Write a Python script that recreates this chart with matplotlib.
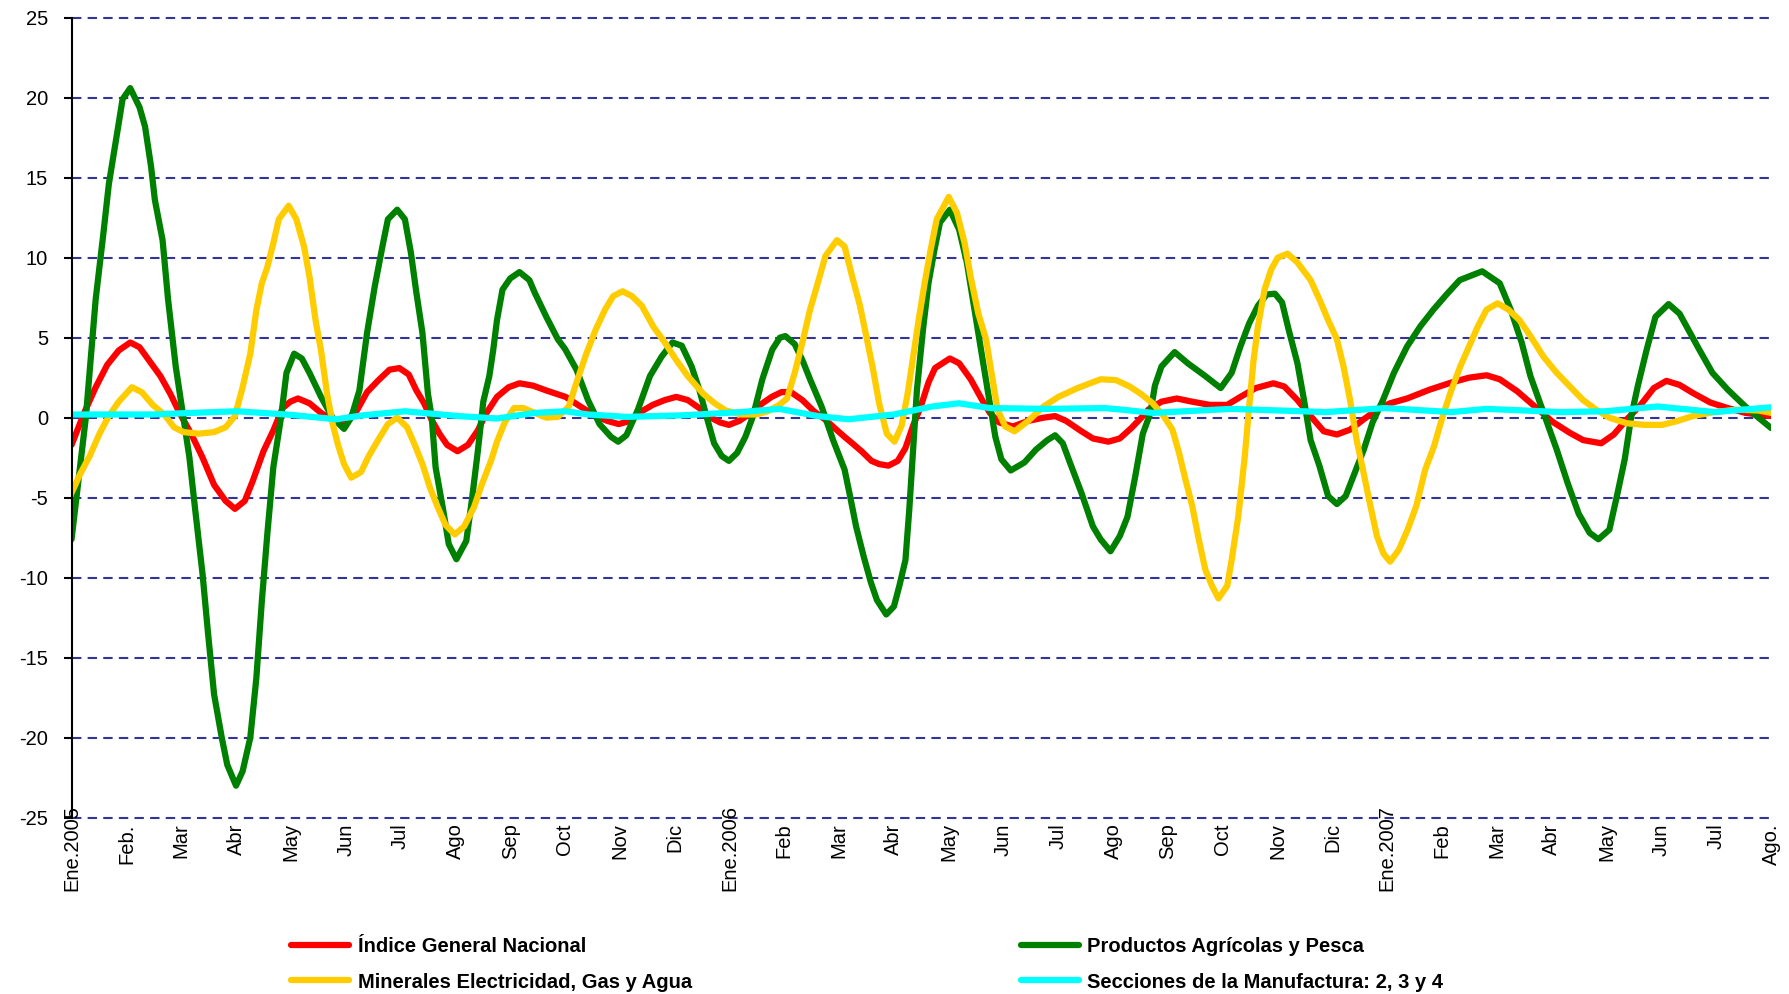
import matplotlib
matplotlib.use("Agg")
import matplotlib.pyplot as plt
import matplotlib.transforms as mtransforms

plt.rcParams['font.family'] = ['Liberation Sans', 'DejaVu Sans']
plt.rcParams['axes.unicode_minus'] = False

# meses desde Ene.2005 (0 = Ene.2005, 31 = Ago.2007)
etiquetas_mes = ["Ene.2005", "Feb.", "Mar", "Abr", "May", "Jun", "Jul", "Ago", "Sep", "Oct", "Nov", "Dic",
                 "Ene.2006", "Feb", "Mar", "Abr", "May", "Jun", "Jul", "Ago", "Sep", "Oct", "Nov", "Dic",
                 "Ene.2007", "Feb", "Mar", "Abr", "May", "Jun", "Jul", "Ago."]

# Indice General Nacional
indice_t = [0, 0.23, 0.44, 0.65, 0.86, 1.07, 1.24, 1.41, 1.62, 1.8, 1.97, 2.18, 2.39, 2.6, 2.81, 2.98,
            3.16, 3.3, 3.5, 3.68, 3.85, 3.99, 4.13, 4.34, 4.55, 4.76, 4.97, 5.18, 5.39, 5.6, 5.8, 5.98,
            6.15, 6.29, 6.43, 6.57, 6.71, 6.85, 7.04, 7.23, 7.41, 7.55, 7.76, 7.97, 8.17, 8.42, 8.66,
            9.01, 9.28, 9.56, 9.77, 9.98, 10.19, 10.4, 10.6, 10.82, 11.03, 11.24, 11.45, 11.66, 11.83,
            11.99, 12.18, 12.35, 12.56, 12.77, 12.95, 13.12, 13.33, 13.54, 13.74, 13.95, 14.1, 14.24,
            14.41, 14.59, 14.73, 14.9, 15.07, 15.21, 15.35, 15.49, 15.63, 15.75, 16.02, 16.19, 16.4,
            16.61, 16.75, 16.92, 17.17, 17.45, 17.73, 17.94, 18.14, 18.42, 18.63, 18.91, 19.12, 19.33,
            19.54, 19.64, 19.88, 20.16, 20.44, 20.76, 21.08, 21.32, 21.6, 21.92, 22.12, 22.36, 22.6,
            22.84, 23.08, 23.32, 23.57, 23.81, 24.05, 24.36, 24.77, 25.17, 25.49, 25.81, 26.05, 26.37,
            26.69, 27.01, 27.33, 27.57, 27.9, 28.13, 28.37, 28.62, 28.86, 29.09, 29.33, 29.57, 29.89,
            30.21, 30.53, 30.77, 31.0]
indice_v = [-1.7, 0.3, 1.9, 3.3, 4.2, 4.7, 4.4, 3.6, 2.6, 1.5, 0.3, -1.0, -2.5, -4.2, -5.2, -5.7,
            -5.2, -4.0, -2.1, -0.8, 0.6, 1.0, 1.2, 0.9, 0.3, -0.15, -0.25, 0.3, 1.6, 2.35, 3.0, 3.1,
            2.7, 1.7, 0.9, -0.15, -1.0, -1.7, -2.1, -1.7, -0.8, 0.2, 1.3, 1.9, 2.15, 2.0, 1.7,
            1.3, 0.7, 0.1, -0.2, -0.4, -0.2, 0.4, 0.8, 1.1, 1.3, 1.1, 0.6, 0.0, -0.3,
            -0.45, -0.2, 0.2, 0.8, 1.3, 1.6, 1.6, 1.1, 0.4, -0.1, -0.75, -1.2, -1.6,
            -2.1, -2.7, -2.9, -3.0, -2.7, -1.9, -0.5, 0.7, 2.2, 3.1, 3.7, 3.4, 2.4,
            1.1, 0.3, -0.3, -0.55, -0.2, 0.0, 0.1, -0.2, -0.85, -1.3, -1.5, -1.3, -0.65,
            0.1, 0.5, 1.0, 1.2, 1.0, 0.8, 0.8, 1.3, 1.85, 2.15, 1.95, 1.1, 0.1,
            -0.85, -1.05, -0.75, -0.1, 0.5, 0.9, 1.2, 1.75, 2.2, 2.5, 2.65, 2.4, 1.65,
            0.7, -0.25, -0.95, -1.4, -1.6, -1.05, -0.1, 0.8, 1.85, 2.3, 2.05, 1.55, 0.95,
            0.6, 0.3, 0.2, 0.1]

# Productos Agricolas y Pesca
agro_t = [0, 0.26, 0.44, 0.58, 0.68, 0.79, 0.86, 0.93, 1.07, 1.24, 1.34, 1.45, 1.52, 1.66, 1.76, 1.9,
          2.04, 2.15, 2.25, 2.39, 2.49, 2.6, 2.74, 2.84, 3.0, 3.12, 3.26, 3.37, 3.47, 3.57, 3.68, 3.82,
          3.92, 4.06, 4.2, 4.34, 4.55, 4.76, 4.97, 5.1, 5.25, 5.39, 5.53, 5.67, 5.77, 5.94, 6.08, 6.19,
          6.29, 6.4, 6.5, 6.57, 6.64, 6.78, 6.88, 7.02, 7.2, 7.3, 7.41, 7.51, 7.62, 7.69, 7.76, 7.86,
          8.0, 8.17, 8.35, 8.45, 8.66, 8.87, 9.0, 9.21, 9.42, 9.63, 9.84, 9.97, 10.12, 10.33, 10.55,
          10.76, 10.96, 11.13, 11.31, 11.45, 11.58, 11.72, 11.86, 11.99, 12.14, 12.29, 12.43, 12.6,
          12.78, 12.92, 13.02, 13.19, 13.33, 13.47, 13.68, 13.89, 14.1, 14.2, 14.31, 14.45, 14.58,
          14.69, 14.86, 15.0, 15.1, 15.21, 15.28, 15.35, 15.42, 15.53, 15.63, 15.74, 15.84, 16.02,
          16.19, 16.33, 16.47, 16.61, 16.75, 16.85, 16.96, 17.13, 17.38, 17.59, 17.8, 17.94, 18.08,
          18.21, 18.42, 18.63, 18.77, 18.95, 19.12, 19.26, 19.4, 19.54, 19.68, 19.76, 19.88, 20.12,
          20.36, 20.68, 20.96, 21.16, 21.32, 21.48, 21.64, 21.8, 21.95, 22.08, 22.2, 22.36, 22.48,
          22.6, 22.76, 22.92, 23.08, 23.24, 23.4, 23.57, 23.73, 23.92, 24.12, 24.36, 24.6, 24.84,
          25.08, 25.32, 25.73, 26.05, 26.25, 26.45, 26.61, 26.85, 27.09, 27.29, 27.49, 27.69, 27.85,
          28.05, 28.2, 28.33, 28.45, 28.57, 28.73, 28.89, 29.13, 29.33, 29.49, 29.69, 29.93, 30.21,
          30.53, 30.77, 31.0]
agro_v = [-7.6, 0, 7.4, 11.5, 14.6, 16.9, 18.4, 19.9, 20.6, 19.4, 18.2, 15.7, 13.6, 11.1, 7.4, 3.2,
          0, -2.5, -5.6, -9.8, -13.5, -17.3, -20.0, -21.7, -23.0, -22.1, -20.0, -16.3, -11.5, -7.3, -3.1, 0,
          2.8, 4.0, 3.7, 2.8, 1.3, 0, -0.7, 0, 1.7, 5.3, 8.2, 10.7, 12.4, 13.0, 12.4, 10.3,
          7.8, 5.3, 1.5, 0, -3.1, -5.8, -7.9, -8.85, -7.7, -5.2, -2.1, 1.0, 2.6, 4.2, 6.1, 8.0,
          8.7, 9.1, 8.6, 7.8, 6.3, 4.9, 4.3, 3.0, 1.1, -0.4, -1.2, -1.5, -1.1, 0.5, 2.6,
          3.8, 4.7, 4.5, 3.2, 1.75, 0.1, -1.6, -2.4, -2.7, -2.2, -1.2, 0.1, 2.4,
          4.25, 5.0, 5.1, 4.6, 3.6, 2.4, 0.7, -1.4, -3.25, -4.9, -6.8, -8.7, -10.3,
          -11.4, -12.3, -11.8, -10.5, -8.9, -5.75, -2.0, 1.75, 5.5, 8.4, 10.5, 12.2, 13.0,
          11.75, 9.7, 6.75, 3.8, 0.9, -1.2, -2.6, -3.3, -2.8, -2.0, -1.4, -1.1, -1.6,
          -2.8, -4.7, -6.8, -7.6, -8.35, -7.4, -6.2, -3.7, -1.0, 0.3, 2.0, 3.2, 4.1,
          3.4, 2.6, 1.85, 2.8, 4.45, 5.9, 7.0, 7.7, 7.75, 7.2, 5.5, 3.4, 1.1,
          -1.4, -3.0, -4.9, -5.4, -4.9, -3.5, -2.0, -0.3, 1.1, 2.8, 4.45, 5.7, 6.75,
          7.7, 8.6, 9.15, 8.4, 6.75, 4.7, 2.6, 0.3, -2.0, -4.1, -6.0, -7.2, -7.6,
          -7.0, -4.7, -2.6, 0.1, 2.0, 4.25, 6.3, 7.1, 6.5, 5.5, 4.25, 2.8, 1.75,
          0.7, 0.0, -0.65]

# Minerales Electricidad, Gas y Agua
miner_t = [0, 0.16, 0.33, 0.51, 0.68, 0.86, 1.1, 1.28, 1.48, 1.69, 1.87, 2.04, 2.32, 2.6, 2.81, 2.98,
           3.12, 3.26, 3.37, 3.47, 3.57, 3.68, 3.78, 3.96, 4.1, 4.24, 4.34, 4.45, 4.55, 4.66, 4.76,
           4.86, 4.97, 5.1, 5.28, 5.42, 5.6, 5.77, 5.94, 6.12, 6.26, 6.4, 6.54, 6.68, 6.82, 6.99,
           7.16, 7.34, 7.48, 7.65, 7.76, 7.9, 8.07, 8.24, 8.45, 8.66, 8.87, 9.07, 9.21, 9.39, 9.56,
           9.73, 9.88, 10.05, 10.22, 10.4, 10.61, 10.82, 11.03, 11.24, 11.52, 11.73, 11.93, 12.21,
           12.49, 12.7, 12.91, 13.05, 13.19, 13.33, 13.47, 13.61, 13.75, 13.96, 14.1, 14.24, 14.38,
           14.52, 14.62, 14.73, 14.87, 15.01, 15.14, 15.25, 15.35, 15.46, 15.56, 15.67, 15.78, 16.0,
           16.15, 16.29, 16.4, 16.54, 16.68, 16.79, 16.89, 17.03, 17.2, 17.45, 17.73, 18.0, 18.35,
           18.77, 19.05, 19.3, 19.5, 19.72, 19.92, 20.08, 20.2, 20.32, 20.44, 20.56, 20.68, 20.8,
           20.92, 21.08, 21.16, 21.28, 21.4, 21.48, 21.56, 21.64, 21.76, 21.88, 22.0, 22.18, 22.36,
           22.6, 22.76, 22.92, 23.08, 23.2, 23.32, 23.44, 23.57, 23.69, 23.81, 23.93, 24.05, 24.21,
           24.37, 24.53, 24.69, 24.85, 25.01, 25.17, 25.33, 25.49, 25.65, 25.81, 26.01, 26.21, 26.41,
           26.61, 26.85, 27.09, 27.33, 27.57, 27.81, 28.05, 28.37, 28.69, 29.01, 29.25, 29.57, 29.97,
           30.37, 30.77, 31.0]
miner_v = [-4.7, -3.5, -2.4, -1.0, 0.1, 1.0, 1.9, 1.6, 0.8, 0.2, -0.6, -0.9, -1.0, -0.9, -0.6, 0.1,
           1.9, 4.0, 6.7, 8.4, 9.4, 10.9, 12.4, 13.25, 12.4, 10.7, 8.8, 6.1, 4.2, 1.5, -0.35,
           -1.7, -2.9, -3.75, -3.4, -2.4, -1.35, -0.4, 0.0, -0.6, -1.7, -2.9, -4.4, -5.6, -6.7, -7.3,
           -6.8, -5.6, -4.2, -2.7, -1.5, -0.3, 0.6, 0.6, 0.3, 0.0, 0.05, 0.7, 2.2, 4.0, 5.5,
           6.75, 7.6, 7.9, 7.6, 7.0, 5.7, 4.7, 3.6, 2.6, 1.5, 0.9, 0.45, 0.2,
           0.2, 0.4, 0.8, 1.2, 2.8, 4.7, 6.75, 8.4, 10.1, 11.1, 10.7, 8.8, 7.0,
           4.7, 3.0, 0.9, -1.0, -1.5, -0.5, 1.5, 3.8, 6.3, 8.4, 10.5, 12.4, 13.8,
           12.8, 10.9, 8.8, 6.5, 4.9, 2.6, 0.5, -0.55, -0.85, -0.2, 0.7, 1.3, 1.85,
           2.4, 2.35, 1.95, 1.5, 0.9, 0.1, -0.75, -2.2, -3.9, -5.5, -7.6, -9.5, -10.5,
           -11.3, -10.5, -8.9, -6.2, -2.4, 0.7, 3.6, 5.7, 8.0, 9.25, 10.0, 10.25, 9.7,
           8.6, 7.4, 6.1, 4.9, 3.2, 1.1, -1.4, -3.5, -5.5, -7.4, -8.5, -9.0, -8.25,
           -7.0, -5.5, -3.25, -1.8, 0.1, 1.75, 3.2, 4.45, 5.7, 6.75, 7.15, 6.75, 6.1,
           5.1, 3.8, 2.8, 1.95, 1.1, 0.5, 0.0, -0.35, -0.45, -0.45, -0.25, 0.1, 0.35,
           0.5, 0.45, 0.3]

# Secciones de la Manufactura: 2, 3 y 4
manuf_t = [0, 1.48, 2.18, 3.02, 3.92, 4.83, 5.32, 6.08, 7.06, 7.76, 8.45, 9.01, 9.42, 10.12, 11.17,
           12.21, 12.91, 13.61, 14.17, 15.0, 15.7, 16.19, 16.75, 17.8, 18.84, 19.16, 19.72, 21.16,
           22.88, 23.96, 25.17, 25.81, 27.17, 27.97, 28.93, 29.97, 31.0]
manuf_v = [0.2, 0.2, 0.3, 0.4, 0.2, -0.1, 0.15, 0.4, 0.1, -0.05, 0.3, 0.4, 0.2, 0.05, 0.15,
           0.35, 0.55, 0.1, -0.1, 0.2, 0.7, 0.9, 0.6, 0.55, 0.6, 0.5, 0.3, 0.55,
           0.35, 0.6, 0.35, 0.55, 0.35, 0.4, 0.7, 0.35, 0.65]

fig = plt.figure(figsize=(17.89, 9.94), dpi=100)
ax = fig.add_axes([0.040, 0.1774, 0.950, 0.8048])

for y in range(-25, 30, 5):
    ax.axhline(y, color="#333399", linestyle=(0, (4.5, 3)), linewidth=1.5, zorder=1, clip_on=False)

estilo = dict(linewidth=4.5, solid_joinstyle="round", solid_capstyle="round", zorder=3)
l1, = ax.plot(indice_t, indice_v, color="#FF0000", **estilo)
l2, = ax.plot(agro_t, agro_v, color="#008000", **estilo)
l3, = ax.plot(miner_t, miner_v, color="#FFCC00", **estilo)
l4, = ax.plot(manuf_t, manuf_v, color="#00FFFF", **estilo)

ax.set_xlim(0, 31)
ax.set_ylim(-25, 25)
for s in ["top", "right", "bottom"]:
    ax.spines[s].set_visible(False)
ax.spines["left"].set_linewidth(1.5)
ax.spines["left"].set_zorder(4)

ax.set_yticks(range(-25, 30, 5))
ax.tick_params(axis="y", length=6, width=1.5, pad=11, labelsize=14.5)
ax.set_xticks(range(len(etiquetas_mes)))
ax.set_xticklabels(etiquetas_mes, rotation=90, fontsize=14.5, va="top", ha="center")
ax.tick_params(axis="x", length=0, pad=4)

# las etiquetas de enero suben un poco como en el original
desplaza = mtransforms.ScaledTranslation(0, 13 / 72, fig.dpi_scale_trans)
for lab in ax.get_xticklabels():
    if lab.get_text().startswith("Ene"):
        lab.set_transform(lab.get_transform() + desplaza)

opts = dict(loc="center left", frameon=False, borderpad=0, borderaxespad=0, handlelength=2.9,
            handletextpad=0.4, labelspacing=0.8, prop={"weight": "bold", "size": 14.5})
fig.legend([l1, l3], ["Índice General Nacional", "Minerales Electricidad, Gas y Agua"],
           bbox_to_anchor=(0.1627, 0.0297), **opts)
fig.legend([l2, l4], ["Productos Agrícolas y Pesca", "Secciones de la Manufactura: 2, 3 y 4"],
           bbox_to_anchor=(0.5707, 0.0297), **opts)

plt.savefig("out.png", dpi=100)
